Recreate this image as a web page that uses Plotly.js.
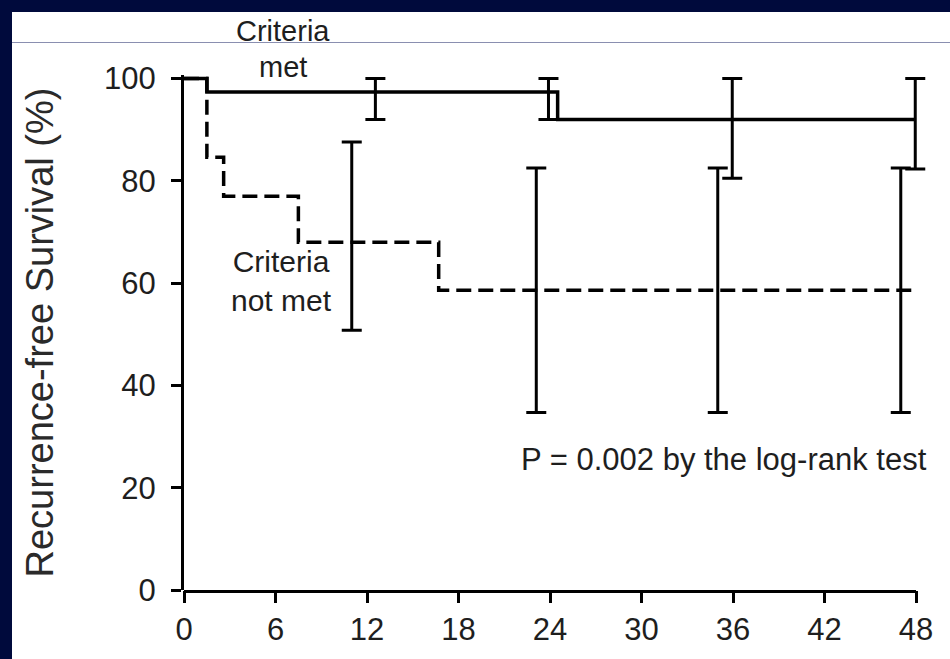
<!DOCTYPE html>
<html>
<head>
<meta charset="utf-8">
<script src="https://cdn.plot.ly/plotly-3.0.1.min.js"></script>
<style>
  html, body { margin: 0; padding: 0; background: #000a3c; width: 950px; height: 659px; overflow: hidden; }
  #panel { position: absolute; left: 12px; top: 12px; width: 938px; height: 647px; background: #ffffff; }
  #rule { position: absolute; left: 12px; top: 42px; width: 938px; height: 1px; background: #8a8fb0; }
  #chart { position: absolute; left: 0; top: 0; width: 950px; height: 659px; }
</style>
</head>
<body>
<div id="panel"></div>
<div id="rule"></div>
<div id="chart"></div>
<script>
// Kaplan-Meier steps (months, % recurrence-free)
const metMonths = [0, 1.5, 24.5, 48];
const metSurvival = [100, 97.4, 92, 92];
const notMetMonths = [0, 1.5, 2.6, 7.5, 16.7, 48];
const notMetSurvival = [100, 84.6, 77, 68, 58.6, 58.6];

// Confidence bars
const metBarMonths = [12.55, 23.9, 35.95, 47.95];
const metBarCenter = [97.4, 97.4, 92, 92];
const metBarUpper = [100, 100, 100, 100];
const metBarLower = [92, 92, 80.5, 82.3];
const notMetBarMonths = [11.0, 23.1, 35.0, 47.0];
const notMetBarCenter = [68, 58.6, 58.6, 58.6];
const notMetBarUpper = [87.6, 82.5, 82.5, 82.5];
const notMetBarLower = [50.8, 34.7, 34.7, 34.7];

const xTicks = [0, 6, 12, 18, 24, 30, 36, 42, 48];
const yTicks = [0, 20, 40, 60, 80, 100];
const xMax = 48;

const FONT = '"Liberation Sans", Arial, Helvetica, sans-serif';
const INK = '#1e1e1e';

function plus(u, c) { return u.map((v, i) => v - c[i]); }
function minus(l, c) { return c.map((v, i) => v - l[i]); }

const traces = [
  { x: metMonths, y: metSurvival, mode: 'lines', line: { shape: 'hv', color: '#000', width: 3.5 }, name: 'Criteria met', cliponaxis: false },
  { x: notMetMonths, y: notMetSurvival, mode: 'lines', line: { shape: 'hv', color: '#000', width: 3.5, dash: '15px,7px' }, name: 'Criteria not met', cliponaxis: false },
  { x: metBarMonths, y: metBarCenter, mode: 'markers', marker: { size: 1, color: 'rgba(0,0,0,0)' }, cliponaxis: false,
    error_y: { type: 'data', symmetric: false, array: plus(metBarUpper, metBarCenter), arrayminus: minus(metBarLower, metBarCenter), color: '#000', thickness: 3, width: 10 } },
  { x: notMetBarMonths, y: notMetBarCenter, mode: 'markers', marker: { size: 1, color: 'rgba(0,0,0,0)' }, cliponaxis: false,
    error_y: { type: 'data', symmetric: false, array: plus(notMetBarUpper, notMetBarCenter), arrayminus: minus(notMetBarLower, notMetBarCenter), color: '#000', thickness: 3, width: 10 } }
];

const layout = {
  width: 950, height: 659,
  paper_bgcolor: 'rgba(0,0,0,0)', plot_bgcolor: 'rgba(0,0,0,0)',
  margin: { l: 184, r: 23, t: 75, b: 69, pad: 0 },
  showlegend: false,
  font: { family: FONT, color: INK, size: 30 },
  xaxis: {
    range: [0, 48.72], tickvals: xTicks, ticktext: xTicks.map(String),
    showgrid: false, zeroline: false, showline: false,
    ticks: 'outside', ticklen: 12, tickwidth: 3, tickcolor: '#000',
    tickfont: { family: FONT, size: 31, color: INK }, fixedrange: true
  },
  yaxis: {
    range: [0, 100.7], tickvals: yTicks, ticktext: yTicks.map(String),
    showgrid: false, zeroline: false, showline: true, linecolor: '#000', linewidth: 3,
    ticks: 'outside', ticklen: 10, tickwidth: 3, tickcolor: '#000',
    tickfont: { family: FONT, size: 31, color: INK }, ticklabelstandoff: 9, fixedrange: true,
    title: { text: 'Recurrence-free Survival (%)', font: { family: FONT, size: 38, color: '#2a2a2a' }, standoff: 39 },
    automargin: false
  },
  shapes: [
    { type: 'line', xref: 'x', yref: 'paper', x0: 0, x1: xMax, y0: -0.003, y1: -0.003, line: { color: '#000', width: 3 } }
  ],
  annotations: [
    { xref: 'paper', yref: 'paper', x: 0.1339, y: 1.085, text: 'Criteria', showarrow: false, font: { family: FONT, size: 29, color: INK }, xanchor: 'center', yanchor: 'middle' },
    { xref: 'paper', yref: 'paper', x: 0.1339, y: 1.0155, text: 'met', showarrow: false, font: { family: FONT, size: 29, color: INK }, xanchor: 'center', yanchor: 'middle' },
    { xref: 'x', yref: 'y', x: 6.4, y: 60.5, text: 'Criteria<br>not met', showarrow: false, font: { family: FONT, size: 30, color: INK }, xanchor: 'center', yanchor: 'middle' },
    { xref: 'x', yref: 'y', x: 35.4, y: 25.5, text: 'P = 0.002 by the log-rank test', showarrow: false, font: { family: FONT, size: 31, color: INK }, xanchor: 'center', yanchor: 'middle' }
  ]
};

Plotly.newPlot('chart', traces, layout, { displayModeBar: false, staticPlot: true });
</script>
</body>
</html>
